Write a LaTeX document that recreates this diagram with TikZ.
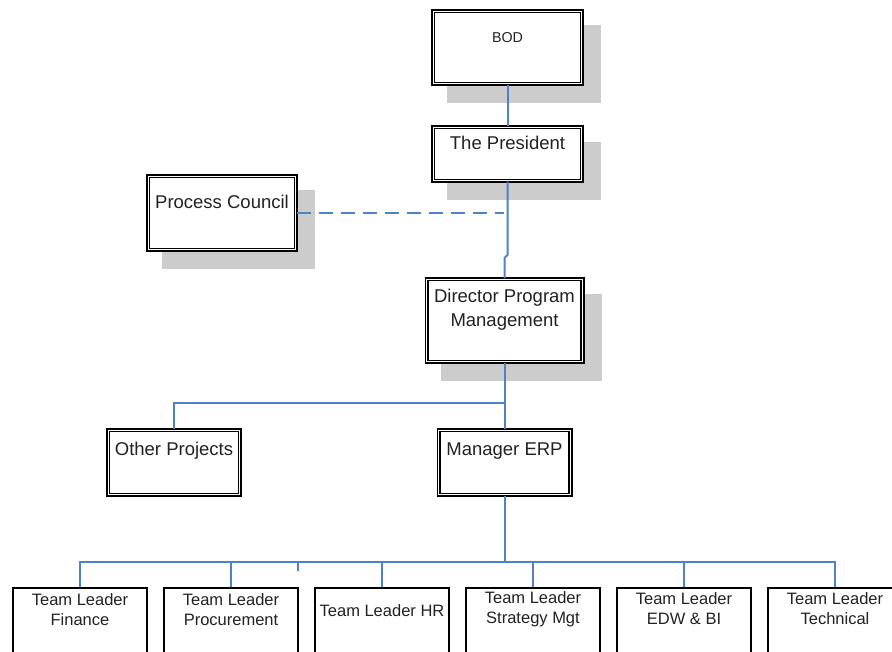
\documentclass[tikz,border=0pt]{standalone}
\usepackage{fontspec}
\setmainfont{Liberation Sans}
\definecolor{linkblue}{RGB}{79,129,199}
\definecolor{shadowgray}{RGB}{204,204,204}
\definecolor{textgray}{RGB}{34,34,34}
\begin{document}
\begin{tikzpicture}[x=1pt,y=-1pt,
  dbox/.style={draw=black, line width=1.6pt, double=white, double distance=1.2pt,
    fill=white, inner sep=0pt},
  sbox/.style={draw=black, line width=1.6pt, fill=white, inner sep=0pt,
    minimum width=134.4pt, minimum height=112pt},
  drop/.style={fill=shadowgray, draw=none},
  link/.style={draw=linkblue, line width=2pt},
  dashlink/.style={link, dash pattern=on 14pt off 8pt},
  lbl/.style={font=\fontsize{18.5}{24}\selectfont, text=textgray, align=center, inner sep=0pt},
  small/.style={font=\fontsize{14.3}{17}\selectfont, text=textgray, inner sep=0pt},
  tlbl/.style={font=\fontsize{16.5}{20}\selectfont, text=textgray, align=center, inner sep=0pt}]
\useasboundingbox (0,0) rectangle (892,652);

% drop shadows behind the upper boxes
\fill[drop] (447,25) rectangle (601,103);
\fill[drop] (447,142) rectangle (601,200);
\fill[drop] (162,190) rectangle (315,269);
\fill[drop] (441,294) rectangle (602,381);

% double-framed boxes
\node[dbox, minimum width=148.6pt, minimum height=72.6pt] (bod) at (507.5,47.5) {};
\node[dbox, minimum width=148.6pt, minimum height=53.6pt] (pres) at (507.5,154) {};
\node[dbox, minimum width=147.6pt, minimum height=73.6pt] (pc) at (222,213) {};
\node[dbox, minimum width=155.6pt, minimum height=82.6pt] (dpm) at (504.5,320.5) {};
\node[dbox, minimum width=131.6pt, minimum height=64.6pt] (other) at (174,462.5) {};
\node[dbox, minimum width=131.6pt, minimum height=64.6pt] (mgr) at (504.5,462.5) {};

% team leader boxes (run past the lower edge)
\node[sbox] (tl1) at (80,643.8) {};
\node[sbox] (tl2) at (231,643.8) {};
\node[sbox] (tl3) at (382,643.8) {};
\node[sbox] (tl4) at (533,643.8) {};
\node[sbox] (tl5) at (684,643.8) {};
\node[sbox] (tl6) at (835,643.8) {};

% labels
\node[small] (tbod) at (507.5,38) {BOD};
\node[lbl] (tpres) at (507.5,143) {The President};
\node[lbl] (tpc) at (222,202) {Process Council};
\node[lbl] (tdpm) at (504.5,310) {Director Program\\Management};
\node[lbl] (tother) at (174,451) {Other Projects};
\node[lbl] (tmgr) at (504.5,451) {Manager ERP};
\node[tlbl] (ttl1) at (80,610) {Team Leader\\Finance};
\node[tlbl] (ttl2) at (231,610) {Team Leader\\Procurement};
\node[tlbl] (ttl3) at (382,611) {Team Leader HR};
\node[tlbl] (ttl4) at (533,609) {Team Leader\\Strategy Mgt};
\node[tlbl] (ttl5) at (684,609) {Team Leader\\EDW \& BI};
\node[tlbl] (ttl6) at (835,609) {Team Leader\\Technical};

% connector junctions
\coordinate (jogtop) at (507.5,255);
\coordinate (jogbot) at (504.5,258);
\coordinate (dashend) at (504,213);
\coordinate (split) at (504.5,403);
\coordinate (bus) at (504.5,562);
\coordinate (tick) at (298,571);

% connectors
\draw[link] (bod.south) -- (pres.north);
\draw[link] (pres.south) -- (jogtop) -- (jogbot) -- (dpm.north);
\draw[dashlink] (pc.east) -- (dashend);
\draw[link] (dpm.south) -- (mgr.north);
\draw[link] (split) -| (other.north);
\draw[link] (mgr.south) -- (bus);
\foreach \t in {tl1,tl2,tl3,tl4,tl5,tl6}
  \draw[link] (bus) -| (\t.north);
\draw[link] (tick |- bus) -- (tick);
\end{tikzpicture}
\end{document}
